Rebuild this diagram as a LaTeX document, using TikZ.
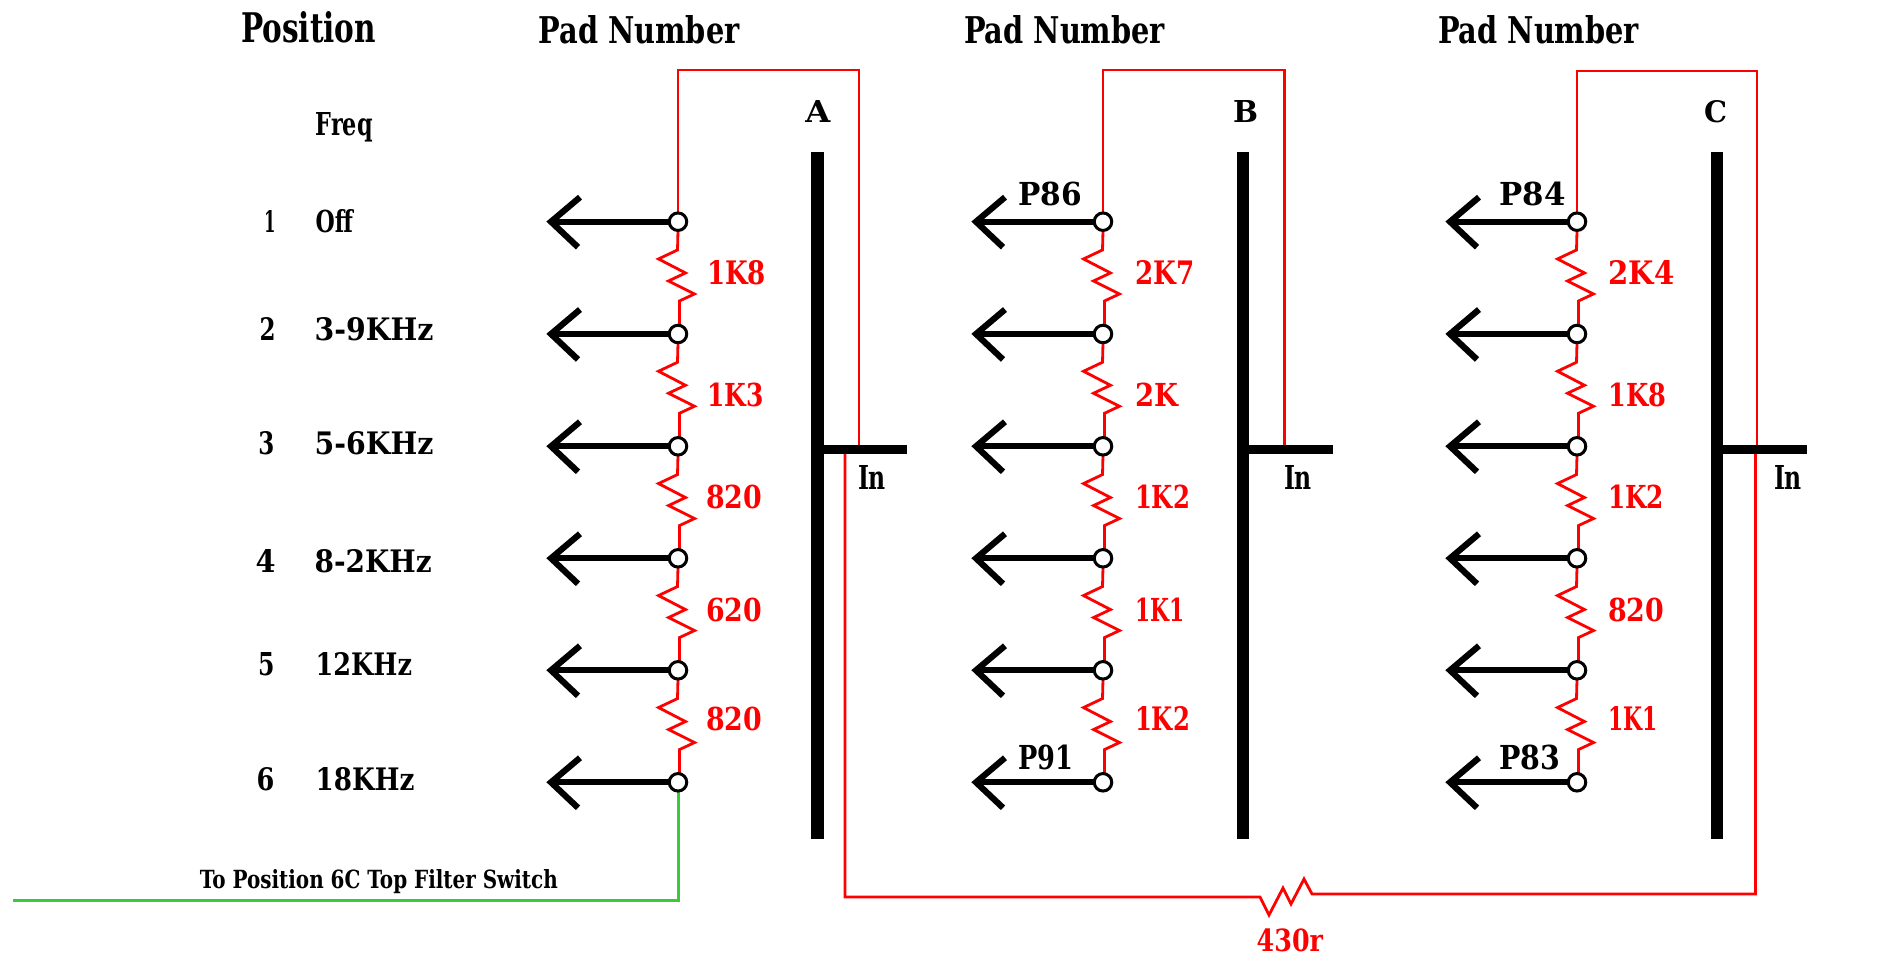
\documentclass[tikz,border=0pt]{standalone}
\usepackage{graphicx}
\usepackage{fontspec}
\setmainfont{DejaVu Serif}
\usetikzlibrary{backgrounds,calc}
\definecolor{wirered}{RGB}{255,0,0}
\definecolor{wiregreen}{RGB}{56,204,56}
\newcommand{\fit}[3]{\resizebox{#1pt}{#2pt}{\bfseries #3}}
\tikzset{
  lbl/.style={anchor=base west,inner sep=0pt,outer sep=0pt,text=black},
  val/.style={lbl,text=wirered},
  pad/.style={circle,draw=black,fill=white,line width=3pt,minimum size=17.5pt,inner sep=0pt,outer sep=0pt},
  bus/.style={rectangle,fill=black,minimum width=12.5pt,minimum height=687pt,inner sep=0pt,outer sep=0pt},
  stub/.style={draw=black,line width=9pt},
  arm/.style={draw=black,line width=6.2pt,miter limit=10},
  wire/.style={draw=wirered,line width=2.8pt,line join=miter},
  gwire/.style={draw=wiregreen,line width=3pt},
}
\begin{document}
\begin{tikzpicture}[x=1pt,y=-1pt]
\useasboundingbox (0,0) rectangle (1877,959);
% pads
\foreach \c/\x in {a/678,b/1103,c/1577}{
  \foreach \n/\y in {1/221.7,2/334,3/446.3,4/558.3,5/670.3,6/782.3}{
    \node[pad] (\c\n) at (\x,\y) {};
  }
}
% busses
\node[bus] (busa) at (817.5,495.5) {};
\node[bus] (busb) at (1242.8,495.5) {};
\node[bus] (busc) at (1717,495.5) {};
\coordinate (ina) at (907,449.5);
\coordinate (inb) at (1333,449.5);
\coordinate (inc) at (1807,449.5);
\draw[stub] (busa.center |- ina) -- (ina);
\draw[stub] (busb.center |- inb) -- (inb);
\draw[stub] (busc.center |- inc) -- (inc);
\coordinate (greenend) at (12.6,900.7);
\begin{pgfonlayer}{background}
\foreach \c in {a,b,c}{
  \foreach \n in {1,...,6}{
    \draw[arm] (\c\n.center) -- ++(-126.5,0);
    \draw[arm] ($(\c\n.center)+(-98,-24.5)$) -- ++(-29,24.5) -- ++(27,25.5);
  }
  \foreach \n/\m in {1/2,2/3,3/4,4/5,5/6}{
    \draw[wire] (\c\n.south) -- ++(-0.5,19.5) -- ++(-19,9) -- ++(27,14) -- ++(-17,8) -- ++(26,13) -- ++(-15,7) |- (\c\m.north);
  }
}
% feed loops
\draw[wire] (a1.north) |- (859,70) -- (859,449.5);
\draw[wire] (b1.north) |- (1284.4,70) -- (1284.4,449.5);
\draw[wire] (c1.north) |- (1757,71) -- (1757,449.5);
% bridge with 430r
\draw[wire] (845,449.5) -- (845,897) -- (1260,897) -- (1269,915) -- (1283,888) -- (1291,904) -- (1304,879) -- (1312,894) -- (1755.5,894) -- (1755.5,449.5);
\draw[gwire] (a6.south) |- (greenend);
\end{pgfonlayer}
% headings
\node[lbl] (hpos) at (241,42.7) {\fit{135}{31}{Position}};
\node[lbl] (hpa) at (538.5,43) {\fit{201}{28}{Pad Number}};
\node[lbl] (hpb) at (964,43) {\fit{201}{28}{Pad Number}};
\node[lbl] (hpc) at (1438,43) {\fit{201}{28}{Pad Number}};
\node[lbl] (la) at (805.4,122.3) {\fit{25}{22}{A}};
\node[lbl] (lb) at (1233,122.3) {\fit{25}{22}{B}};
\node[lbl] (lc) at (1704,122.3) {\fit{23}{22}{C}};
\node[lbl] (freq) at (315.7,135) {\fit{57}{23}{Freq}};
% positions
\node[lbl] (n1) at (264,232) {\fit{11.5}{22}{1}};
\node[lbl] (n2) at (259.5,340.7) {\fit{16}{23}{2}};
\node[lbl] (n3) at (258.3,454) {\fit{16}{23}{3}};
\node[lbl] (n4) at (255.5,572.7) {\fit{20}{23}{4}};
\node[lbl] (n5) at (258,675.7) {\fit{16.4}{23}{5}};
\node[lbl] (n6) at (256.6,790) {\fit{17.8}{23}{6}};
\node[lbl] (f1) at (315.7,232) {\fit{37.3}{23}{Off}};
\node[lbl] (f2) at (314.6,340.7) {\fit{118.8}{23}{3-9KHz}};
\node[lbl] (f3) at (314.6,454) {\fit{118.8}{23}{5-6KHz}};
\node[lbl] (f4) at (314.6,572.7) {\fit{117.1}{23}{8-2KHz}};
\node[lbl] (f5) at (315.7,675.7) {\fit{96.3}{23}{12KHz}};
\node[lbl] (f6) at (315.7,790) {\fit{98.8}{23}{18KHz}};
\node[lbl] (togo) at (199.8,888.3) {\fit{358}{19}{To Position 6C Top Filter Switch}};
% pad numbers
\node[lbl] (p86) at (1018.4,205) {\fit{63.6}{23.5}{P86}};
\node[lbl] (p91) at (1018,769) {\fit{55}{24.5}{P91}};
\node[lbl] (p84) at (1499.4,205) {\fit{66}{23.5}{P84}};
\node[lbl] (p83) at (1499.4,769) {\fit{61}{24.5}{P83}};
% In
\node[lbl] (ia) at (858,489) {\fit{28}{24}{In}};
\node[lbl] (ib) at (1284,489) {\fit{28}{24}{In}};
\node[lbl] (ic) at (1774,489) {\fit{28}{24}{In}};
% resistor values A
\node[val] (ra1) at (707,284.3) {\fit{59}{24}{1K8}};
\node[val] (ra2) at (707,406) {\fit{56.5}{23.5}{1K3}};
\node[val] (ra3) at (706,508.5) {\fit{56}{23.5}{820}};
\node[val] (ra4) at (706,621.7) {\fit{56}{23.5}{620}};
\node[val] (ra5) at (706,730.7) {\fit{56}{23.5}{820}};
% resistor values B
\node[val] (rb1) at (1135.5,284.3) {\fit{59.2}{24}{2K7}};
\node[val] (rb2) at (1135.5,406) {\fit{43}{23.5}{2K}};
\node[val] (rb3) at (1135,508.5) {\fit{55}{23.5}{1K2}};
\node[val] (rb4) at (1135,621.7) {\fit{49.3}{23.5}{1K1}};
\node[val] (rb5) at (1135,730.7) {\fit{55}{24}{1K2}};
% resistor values C
\node[val] (rc1) at (1608.4,284.3) {\fit{66}{24}{2K4}};
\node[val] (rc2) at (1608.4,406) {\fit{58}{23.5}{1K8}};
\node[val] (rc3) at (1608,508.5) {\fit{56}{23.5}{1K2}};
\node[val] (rc4) at (1608,621.7) {\fit{56}{23.5}{820}};
\node[val] (rc5) at (1608,730.7) {\fit{49.5}{24}{1K1}};
\node[val] (r430) at (1256.7,951.7) {\fit{66.3}{22.7}{430r}};
\end{tikzpicture}
\end{document}
